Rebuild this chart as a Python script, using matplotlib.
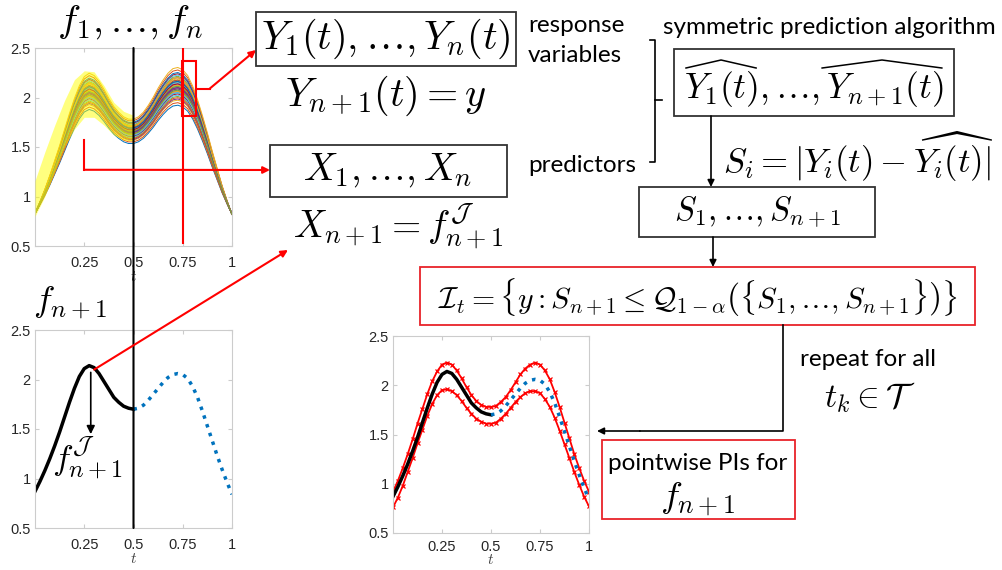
# %% Pakete
import numpy as np
import matplotlib.pyplot as plt
from matplotlib.patches import Rectangle, ConnectionPatch

plt.rcParams['mathtext.fontset'] = 'cm'
plt.rcParams['font.family'] = ['Liberation Sans', 'DejaVu Sans']

# %% Daten
t = np.linspace(0, 1, 41)

# new curve f_{n+1}
f_new = [0.87, 0.97, 1.08, 1.20, 1.33, 1.47, 1.62, 1.77, 1.91, 2.03,
         2.11, 2.14, 2.12, 2.06, 1.98, 1.90, 1.82, 1.77, 1.73, 1.71,
         1.70, 1.71, 1.74, 1.79, 1.85, 1.91, 1.97, 2.02, 2.05, 2.06,
         2.05, 2.01, 1.93, 1.82, 1.68, 1.53, 1.38, 1.23, 1.09, 0.96, 0.84]

# mean of the observed curves f_1..f_n
family_mean = [0.83, 0.93, 1.04, 1.16, 1.29, 1.42, 1.56, 1.70, 1.83, 1.94,
               2.02, 2.05, 2.03, 1.98, 1.91, 1.83, 1.76, 1.71, 1.67, 1.65,
               1.65, 1.67, 1.71, 1.77, 1.84, 1.92, 1.99, 2.05, 2.09, 2.10,
               2.08, 2.03, 1.94, 1.82, 1.68, 1.53, 1.37, 1.22, 1.07, 0.94, 0.82]
family_base = 0.83
family_scale = [0.86, 0.88, 0.90, 0.91, 0.93, 0.94, 0.95, 0.96, 0.97, 0.97,
                0.98, 0.99, 1.00, 1.00, 1.01, 1.02, 1.02, 1.03, 1.04, 1.04,
                1.05, 1.06, 1.06, 1.07, 1.08, 1.09, 1.10, 1.11, 1.12, 1.14,
                1.16, 0.99, 1.01, 0.96, 1.03, 1.05, 0.92, 1.08, 1.00, 0.98]
matlab_colors = ['#0072BD', '#D95319', '#EDB120', '#7E2F8E',
                 '#77AC30', '#4DBEEE', '#A2142F']

# yellow highlight over first half
t_half = np.linspace(0, 0.5, 11)
yellow_upper = [1.16, 1.45, 1.72, 1.97, 2.18, 2.27, 2.26, 2.12, 1.95, 1.86, 1.82]
yellow_lower = [0.80, 1.00, 1.25, 1.50, 1.68, 1.80, 1.80, 1.72, 1.62, 1.57, 1.56]

# pointwise prediction intervals
pi_upper = [0.92, 1.03, 1.16, 1.30, 1.45, 1.61, 1.76, 1.91, 2.04, 2.14,
            2.21, 2.23, 2.21, 2.15, 2.07, 1.98, 1.90, 1.84, 1.80, 1.78,
            1.78, 1.79, 1.83, 1.88, 1.95, 2.03, 2.11, 2.17, 2.21, 2.23,
            2.21, 2.15, 2.06, 1.93, 1.78, 1.62, 1.46, 1.30, 1.16, 1.03, 0.92]
pi_lower = [0.76, 0.86, 0.98, 1.12, 1.26, 1.41, 1.55, 1.69, 1.81, 1.90,
            1.95, 1.96, 1.94, 1.90, 1.84, 1.77, 1.71, 1.66, 1.63, 1.61,
            1.61, 1.62, 1.66, 1.71, 1.77, 1.83, 1.88, 1.92, 1.94, 1.94,
            1.92, 1.86, 1.78, 1.67, 1.54, 1.40, 1.26, 1.12, 0.99, 0.87, 0.77]

xtick_vals = [0.25, 0.5, 0.75, 1]
xtick_labels = ['0.25', '0.5', '0.75', '1']
ytick_vals = [0.5, 1, 1.5, 2, 2.5]
ytick_labels = ['0.5', '1', '1.5', '2', '2.5']

# %% Figur
W, H = 1002, 570
fig = plt.figure(figsize=(W / 100, H / 100), dpi=100)


def px_axes(left, top, right, bottom):
    return fig.add_axes([left / W, 1 - bottom / H, (right - left) / W, (bottom - top) / H])


def style_axes(ax, xpad=7, labelpad=0):
    ax.set_xlim(0, 1)
    ax.set_ylim(0.5, 2.5)
    ax.set_xticks(xtick_vals, xtick_labels)
    ax.set_yticks(ytick_vals, ytick_labels)
    for sp in ax.spines.values():
        sp.set_color('#cccccc')
    ax.tick_params(direction='in', length=3, color='#cccccc', labelcolor='#262626',
                   labelsize=10.5, top=True, right=True)
    ax.tick_params(axis='x', pad=xpad)
    ax.tick_params(axis='y', pad=3)
    ax.set_xlabel('$t$', fontsize=11, labelpad=labelpad, color='#404040')


tmask_l = t <= 0.5
tmask_r = t >= 0.5
f_arr = np.array(f_new)

# top left: f_1..f_n
ax_top = px_axes(35, 48, 232, 246)
for i, s in enumerate(family_scale):
    y = family_base + s * (np.array(family_mean) - family_base)
    ax_top.plot(t, y, color=matlab_colors[i % 7], lw=0.7)
ax_top.fill_between(t_half, yellow_lower, yellow_upper, color='#ffff00', alpha=0.5,
                    lw=0, zorder=5)
style_axes(ax_top)
ax_top.plot([0.75, 0.75], [0.53, 2.5], color='red', lw=1.5, zorder=6)
ax_top.add_patch(Rectangle((0.748, 1.81), 0.068, 0.555, fill=False, ec='red', lw=1.5, zorder=6))
ax_top.plot([0.816, 0.887], [2.09, 2.09], color='red', lw=1.5, zorder=6)
ax_top.plot([0.25, 0.25], [1.57, 1.27], color='red', lw=1.5, zorder=6)

# bottom left: f_{n+1}
ax_bl = px_axes(35, 330, 232, 528)
ax_bl.plot(t[tmask_l], f_arr[tmask_l], color='black', lw=2.5)
ax_bl.plot(t[tmask_r], f_arr[tmask_r], color='#0072BD', lw=2.5, ls=':')
style_axes(ax_bl)
ax_bl.annotate('', xy=(0.283, 1.42), xytext=(0.283, 2.1),
               arrowprops=dict(arrowstyle='-|>', color='black', lw=1.2, mutation_scale=12))

# bottom middle: PIs
ax_pi = px_axes(393, 336, 589, 533)
ax_pi.plot(t, pi_upper, color='red', lw=1.3, ls='-', marker='x', ms=2.5, mew=0.9)
ax_pi.plot(t, pi_lower, color='red', lw=1.3, ls='-', marker='x', ms=2.5, mew=0.9)
ax_pi.plot(t[tmask_l], f_arr[tmask_l], color='black', lw=2.5)
ax_pi.plot(t[tmask_r], f_arr[tmask_r], color='#0072BD', lw=2.5, ls=':')
style_axes(ax_pi, xpad=5, labelpad=-1)

# %% Overlay fuer Text und Pfeile
ov = fig.add_axes([0, 0, 1, 1], zorder=10)
ov.set_xlim(0, W)
ov.set_ylim(H, 0)
ov.axis('off')


def box(x0, y0, x1, y1, color='#333333'):
    ov.add_patch(Rectangle((x0, y0), x1 - x0, y1 - y0, fill=False, ec=color, lw=1.3))


def math(x, y, s, size, ha='center'):
    return ov.text(x, y, s, fontsize=size, ha=ha, va='center')


def words(x, y, s, size=17.5, ha='left'):
    ov.text(x, y, s, fontsize=size, ha=ha, va='center', family='Lato', color='black')


def arrow(x0, y0, x1, y1, color='black'):
    ov.annotate('', xy=(x1, y1), xytext=(x0, y0),
                arrowprops=dict(arrowstyle='-|>', color=color, lw=1.2, mutation_scale=10,
                                shrinkA=0, shrinkB=0))


math(130, 22, r'$f_1,\ldots,f_n$', 28)
math(33, 302, r'$f_{n+1}$', 26, ha='left')
math(88, 458, r'$f^{\mathcal{J}}_{n+1}$', 25)

box(256, 12, 516, 66)
math(386, 39, r'$Y_1(t),\ldots,Y_n(t)$', 29)
math(386, 96, r'$Y_{n+1}(t) = y$', 29)
box(270, 145, 507, 197)
math(388, 170, r'$X_1,\ldots,X_n$', 27.5)
math(398, 226, r'$X_{n+1} = f^{\mathcal{J}}_{n+1}$', 27)

words(528, 25, 'response')
words(528, 55, 'variables')
words(528, 165, 'predictors')
ov.plot([650, 655, 655, 650], [40, 40, 162, 162], color='black', lw=1.2)
ov.plot([655, 662], [100, 100], color='black', lw=1.2)

words(663, 27, 'symmetric prediction algorithm')

# hat box: text without hats, hats drawn as thin wedges
box(674, 49, 954, 116)
yhat_parts = [r'$Y_1(t)$', r'$Y_1(t),\ldots,$', r'$Y_1(t),\ldots,Y_{n+1}(t)$']
yhat_size = 25.5
yhat_x0 = 684
math(yhat_x0, 89, yhat_parts[2], yhat_size, ha='left')
renderer = fig.canvas.get_renderer()
widths = []
for s in yhat_parts:
    tmp = ov.text(0, 0, s, fontsize=yhat_size)
    widths.append(tmp.get_window_extent(renderer).width)
    tmp.remove()
for a, b in [(0, widths[0]), (widths[1], widths[2])]:
    xa, xb = yhat_x0 + a + 2, yhat_x0 + b - 2
    ov.plot([xa, (xa + xb) / 2, xb], [68, 60, 68], color='black', lw=1.1)

arrow(711, 116, 711, 187)
math(723, 157, r'$S_i = |Y_i(t) - \widehat{Y_i(t)}|$', 25, ha='left')
box(639, 187, 875, 237)
math(757, 212, r'$S_1,\ldots,S_{n+1}$', 23.5)
arrow(713, 237, 713, 267)
box(420, 267, 975, 325, color='#e8232a')
math(698, 297, r'$\mathcal{I}_t = \left\{y : S_{n+1} \leq \mathcal{Q}_{1-\alpha}\left(\{S_1,\ldots,S_{n+1}\}\right)\right\}$', 21.5)

ov.plot([783, 783, 640], [325, 431, 431], color='black', lw=1.2)
arrow(640, 431, 597, 431)
words(868, 359, 'repeat for all', ha='center')
math(870, 398, r'$t_k \in \mathcal{T}$', 24.5)
box(602, 440, 795, 519, color='#e8232a')
words(698, 463, 'pointwise PIs for', ha='center')
math(698, 499, r'$f_{n+1}$', 26.5)

# %% Verbindungen zwischen den Achsen
links = [
    (ax_top, (0.5, 2.5), ax_bl, (0.5, 0.5), 'black', '-', 1.5),
    (ax_top, (0.887, 2.09), ov, (256, 50), 'red', '-|>', 1.5),
    (ax_top, (0.25, 1.27), ov, (270, 170), 'red', '-|>', 1.5),
    (ax_bl, (0.30, 2.10), ov, (288, 250), 'red', '-|>', 1.5),
]
for axA, pA, axB, pB, col, style, lw in links:
    con = ConnectionPatch(xyA=pA, coordsA=axA.transData, xyB=pB, coordsB=axB.transData,
                          arrowstyle=style, color=col, lw=lw, mutation_scale=10,
                          shrinkA=0, shrinkB=0)
    fig.add_artist(con)

fig.savefig('out.png', dpi=100)
